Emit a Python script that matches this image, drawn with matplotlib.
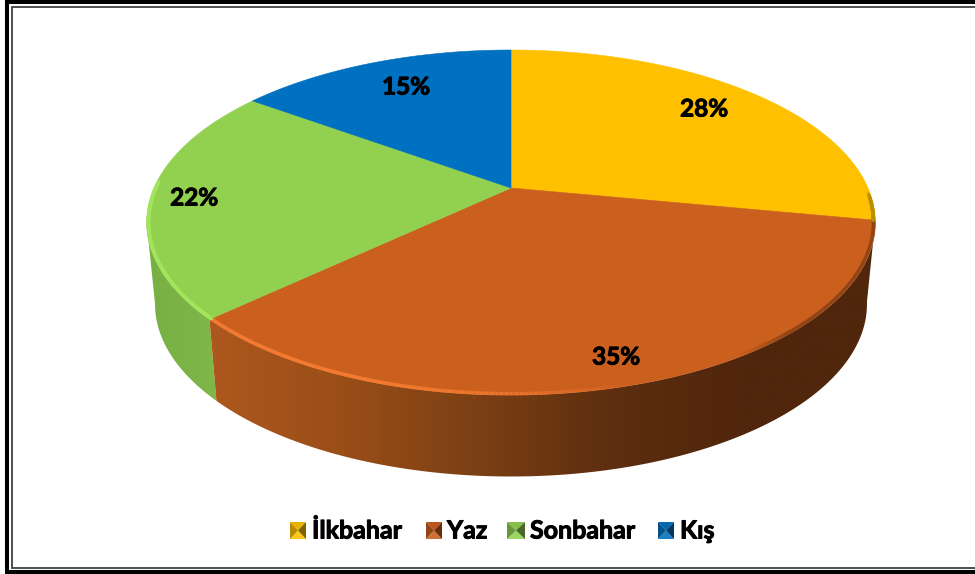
import numpy as np
import matplotlib
matplotlib.use("Agg")
import matplotlib.pyplot as plt
import matplotlib.patheffects as pe
from matplotlib.colors import LinearSegmentedColormap, to_rgb
from matplotlib.patches import Polygon
from matplotlib.collections import LineCollection

categories = ["İlkbahar", "Yaz", "Sonbahar", "Kış"]
shares = [28, 35, 22, 15]
percent_labels = ["28%", "35%", "22%", "15%"]

colors = ["#FFC000", "#CB5F1E", "#92D050", "#0070C0"]
rim_colors = ["#B89000", "#F27A30", "#A2E45C", "#0070C0"]
label_xy = [(704, 109), (616, 357), (194, 198), (406, 87)]
legend_marker_x = [(290, 306), (426, 442), (507, 525), (658, 674)]
legend_text_x = [312, 447, 530, 680]

plt.rcParams["font.family"] = ["Lato", "DejaVu Sans"]
fig = plt.figure(figsize=(9.75, 5.74), dpi=100)
ax = fig.add_axes([0, 0, 1, 1])
ax.set_xlim(0, 975)
ax.set_ylim(574, 0)
ax.axis("off")
bold = [pe.withStroke(linewidth=0.7, foreground="black")]


def project(theta_deg, r=1.0):
    """Clockwise angle from the top of the disc to pixel position, in perspective."""
    t = np.radians(np.asarray(theta_deg, dtype=float))
    u, v = r * np.sin(t), r * np.cos(t)
    den = 1 + 0.2 * v
    return 511 + 357 * u / den, (188 - 128 * v) / den


def project_low(theta_deg):
    x, y = project(theta_deg)
    return 511 + (x - 511) * 0.977, y + 81.5


edges = np.concatenate([[0], np.cumsum(shares)]) / np.sum(shares) * 360


def side(a0, a1, c0, c1):
    th = np.linspace(a0, a1, 160)
    xt, yt = project(th)
    xb, yb = project_low(th)
    poly = Polygon(np.r_[np.c_[xt, yt], np.c_[xb, yb][::-1]], closed=True,
                   transform=ax.transData, fc="none", ec="none")
    ax.add_patch(poly)
    cmap = LinearSegmentedColormap.from_list("s", c0)
    im = ax.imshow(np.linspace(0, 1, 512)[None, :], cmap=cmap, aspect="auto",
                   extent=(c1[0], c1[1], 500, 40), zorder=1, interpolation="bilinear")
    im.set_clip_path(poly)


# front wall of the disc: Sonbahar then Yaz
side(edges[2], 258.5, ["#77AF44", "#80B84A"], (140, 228))
side(edges[1], edges[2],
     ["#AE581E", "#9A4E18", "#7C4014", "#5E2E10", "#50260C", "#50260C"], (205, 880))
ax.set_xlim(0, 975)
ax.set_ylim(574, 0)

# top face
for i, c in enumerate(colors):
    th = np.linspace(edges[i], edges[i + 1], 160)
    x, y = project(th)
    ax.fill(np.r_[511, x], np.r_[188, y], color=c, lw=0.4, zorder=2)

# bevelled rim along the front edge
for i, (a0, a1) in enumerate([(edges[1], edges[2]), (edges[2], 272), (85, edges[1])]):
    th = np.linspace(a0, a1, 200)
    x, y = project(th, 0.995)
    pts = np.c_[x, y]
    segs = np.stack([pts[:-1], pts[1:]], axis=1)
    if i == 0:
        rgb = to_rgb(rim_colors[1])
        alpha = np.clip((640 - x[:-1]) / 250, 0, 1)
        dark = np.clip((x[:-1] - 740) / 90, 0, 0.55)
        cols = [(*rgb, a) for a in alpha]
        lc0 = LineCollection(segs, colors=[(0.38, 0.18, 0.06, d) for d in dark], lw=2.5, zorder=3)
        ax.add_collection(lc0)
    elif i == 1:
        cols = [(*to_rgb(rim_colors[2]), 1.0)] * len(segs)
    else:
        rgb = to_rgb(rim_colors[0])
        cols = [(*rgb, a) for a in np.clip((x[:-1] - 868) / 6, 0, 1)]
    ax.add_collection(LineCollection(segs, colors=cols, lw=2.6, zorder=3, capstyle="round"))

# percentage labels
for s, (x, y) in zip(percent_labels, label_xy):
    ax.text(x, y, s, ha="center", va="center", fontsize=17.5, fontweight="bold",
            color="black", zorder=5, path_effects=bold)


# legend with pyramid-shaded keys
def shade(c, f):
    r = np.array(to_rgb(c))
    return tuple(r * f) if f <= 1 else tuple(r + (1 - r) * (f - 1))


y0, y1 = 522, 539
for name, c, (x0, x1), tx in zip(categories, colors, legend_marker_x, legend_text_x):
    xm, ym = (x0 + x1) / 2, (y0 + y1) / 2
    faces = [([(x0, y0), (x1, y0), (xm, ym)], 0.92),
             ([(x0, y1), (x1, y1), (xm, ym)], 1.1),
             ([(x0, y0), (x0, y1), (xm, ym)], 0.72),
             ([(x1, y0), (x1, y1), (xm, ym)], 0.5)]
    for pts, f in faces:
        ax.add_patch(Polygon(pts, closed=True, fc=shade(c, f), ec="none", zorder=4))
    ax.text(tx, 531, name, ha="left", va="center", fontsize=18, fontweight="bold",
            color="black", zorder=5, path_effects=bold)

# double frame (open at the right-hand edge)
ax.plot([975, 6.5, 6.5, 975], [2, 2, 571.5, 571.5], color="black", lw=2.9,
        solid_joinstyle="miter", zorder=6, clip_on=False)
ax.plot([975, 11.5, 11.5, 975], [6.5, 6.5, 567.5, 567.5], color="#404040", lw=1.3,
        solid_joinstyle="miter", zorder=6, clip_on=False)

fig.savefig("out.png", dpi=100, facecolor="white")
